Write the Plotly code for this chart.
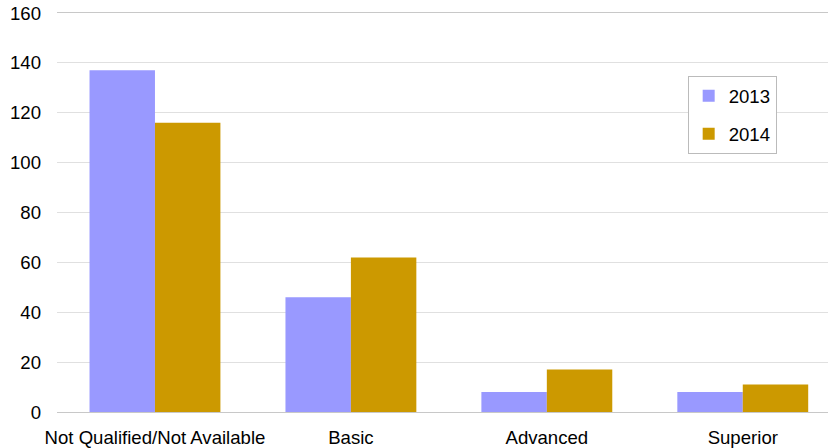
import plotly.graph_objects as go

categories = ["Not Qualified/Not Available", "Basic", "Advanced", "Superior"]
values_2013 = [137, 46, 8, 8]
values_2014 = [116, 62, 17, 11]
y_ticks = [0, 20, 40, 60, 80, 100, 120, 140, 160]

FONT = "Liberation Sans, Arial, sans-serif"
SIZE = 18.6

fig = go.Figure()
fig.add_trace(go.Bar(
    name="2013", x=categories, y=values_2013,
    marker=dict(color="#9999FF", line=dict(width=0)),
    legendgroup="a",
))
fig.add_trace(go.Bar(
    name="2014", x=categories, y=values_2014,
    marker=dict(color="#CC9900", line=dict(width=0)),
    legendgroup="b",
))

fig.update_layout(
    width=828, height=448,
    margin=dict(l=57, r=0, t=13, b=36),
    paper_bgcolor="white", plot_bgcolor="white",
    barmode="group", bargap=0.332, bargroupgap=0,
    font=dict(family=FONT, size=SIZE, color="#000000"),
    showlegend=True,
    legend=dict(
        x=0.818, y=0.842, xanchor="left", yanchor="top",
        bordercolor="#bbbbbb", borderwidth=1, bgcolor="white",
        font=dict(family=FONT, size=SIZE, color="#000000"),
        tracegroupgap=11, traceorder="grouped",
    ),
)

fig.update_xaxes(
    type="category",
    range=[-0.5, 3.435],
    showgrid=False,
    showline=True, linecolor="#c8c8c8", linewidth=1, mirror=True,
    ticks="", ticklabelstandoff=9,
    tickfont=dict(family=FONT, size=SIZE, color="#000000"),
)
fig.update_yaxes(
    range=[0, 160],
    tickvals=y_ticks,
    showgrid=True, gridcolor="#e0e0e0", gridwidth=1,
    zeroline=False, showline=False,
    ticks="", ticklabelstandoff=15,
    tickfont=dict(family=FONT, size=SIZE, color="#000000"),
)

fig.write_html("out.html")
